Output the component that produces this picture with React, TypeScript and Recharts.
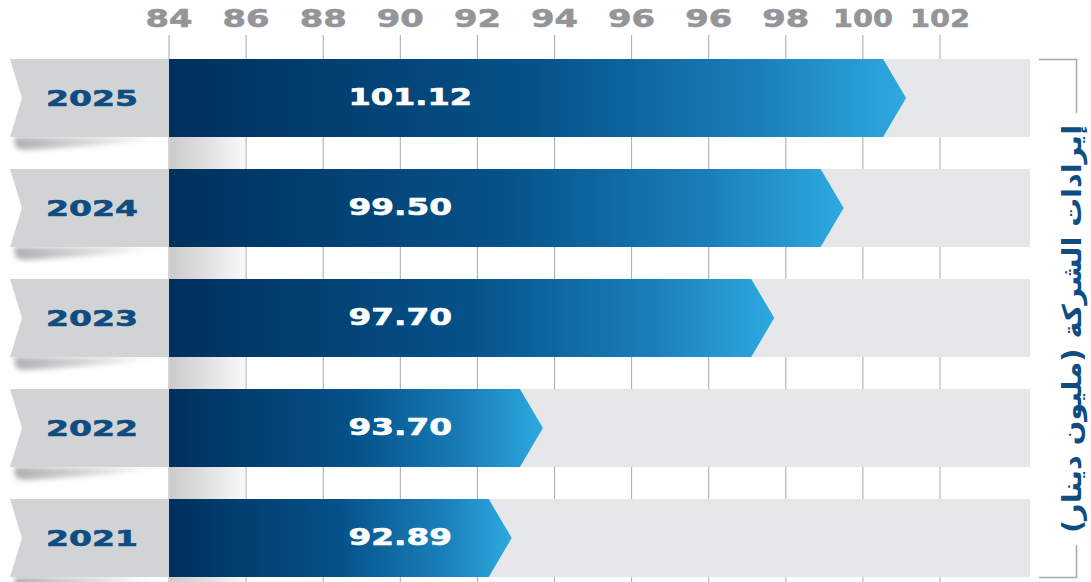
import React from 'react';
import { BarChart, Bar, XAxis, YAxis, CartesianGrid, LabelList } from 'recharts';

// Chart data (top to bottom as printed)
const years = ['2025', '2024', '2023', '2022', '2021'];
const revenue = [101.12, 99.5, 97.7, 93.7, 92.89];
// Printed axis labels, evenly spaced (96 appears twice in the source)
const tickLabels = [84, 86, 88, 90, 92, 94, 96, 96, 98, 100, 102];
const axisTitle = 'إيرادات الشركة (مليون دينار)';

const rows = years.map((year, i) => ({ year, value: revenue[i] }));
const slotTicks = tickLabels.map((_, i) => i);

// Piecewise scale defined by the printed ticks: value -> tick slot
const axisSlot = (v: number) => {
  let k = 0;
  for (let i = 0; i < tickLabels.length - 1; i++) {
    if (tickLabels[i] <= v) k = i;
  }
  const span = tickLabels[k + 1] - tickLabels[k];
  return k + (v - tickLabels[k]) / span;
};

const W = 1091;
const H = 582;
const PLOT_LEFT = 169;
const PLOT_RIGHT = 1030;
const STEP = 77.1;
const BAR_H = 78;
const TIP = 23;
const DOMAIN_MAX = (PLOT_RIGHT - PLOT_LEFT) / STEP;

const GRID = '#a7a9ac';
const BAND = '#e6e7e8';
const RIBBON = '#d1d3d4';
const NAVY = '#0f4c81';
const TICK_GREY = '#939598';
const FONT = '"DejaVu Sans", sans-serif';

// rough ink widths to mimic the extended display face
const textWidth = (s: string, digit: number, one: number, dot: number, trim: number) =>
  s.split('').reduce((w, c) => w + (c === '1' ? one : c === '.' ? dot : digit), 0) - trim;

// grid only at the printed ticks (same linear map as the x axis)
const gridAtTicks = (props: any) => {
  const off = props && props.offset;
  const left = off && typeof off.left === 'number' ? off.left : PLOT_LEFT;
  const width = off && typeof off.width === 'number' ? off.width : PLOT_RIGHT - PLOT_LEFT;
  return slotTicks.map((t) => left + (width * t) / DOMAIN_MAX);
};

const AxisTick = (props: any) => {
  const { x, payload } = props;
  const label = String(tickLabels[payload.value]);
  return (
    <text
      x={x}
      y={26.7}
      textAnchor="middle"
      fontFamily={FONT}
      fontWeight="bold"
      fontSize={25}
      fill={TICK_GREY}
      stroke={TICK_GREY}
      strokeWidth={0.6}
      textLength={textWidth(label, 24, 13, 8, 1)}
      lengthAdjust="spacingAndGlyphs"
    >
      {label}
    </text>
  );
};

const YearTick = (props: any) => {
  const { y, payload } = props;
  const top = y - BAR_H / 2;
  const bot = y + BAR_H / 2;
  const label = String(payload.value);
  return (
    <g>
      {/* soft shadow under the ribbon */}
      <path
        d={`M14,${bot} L168,${bot} L168,${bot + 1} C140,${bot + 4} 90,${bot + 10} 24,${bot + 13} L16,${bot + 11} Z`}
        fill="url(#shadowGrad)"
        filter="url(#softBlur)"
      />
      {/* gap shading right of the ribbon */}
      <rect x={170} y={bot} width={75} height={32} fill="url(#gapGrad)" />
      <path
        d={`M10,${top} L${PLOT_LEFT},${top} L${PLOT_LEFT},${bot} L10,${bot} L22,${y} Z`}
        fill={RIBBON}
      />
      <text
        transform={`translate(92,${y + 7.5}) scale(1.5,1)`}
        textAnchor="middle"
        fontFamily={FONT}
        fontWeight="bold"
        fontSize={22}
        fill={NAVY}
        stroke={NAVY}
        strokeWidth={0.6}
      >
        {label}
      </text>
    </g>
  );
};

const ArrowBar = (props: any) => {
  const { x, y, width, height } = props;
  if (width == null || width <= 0) return null;
  const body = x + width - TIP;
  const d = `M${x},${y} L${body},${y} L${x + width},${y + height / 2} L${body},${y + height} L${x},${y + height} Z`;
  return <path d={d} fill="url(#barGrad)" />;
};

const ValueLabel = (props: any) => {
  const { x, y, height, value } = props;
  const label = Number(value).toFixed(2);
  return (
    <text
      x={x + 179.5}
      y={y + height / 2 + 7}
      fontFamily={FONT}
      fontWeight="bold"
      fontSize={23}
      fill="#ffffff"
      stroke="#ffffff"
      strokeWidth={0.6}
      textLength={textWidth(label, 24.5, 23, 8.5, 3)}
      lengthAdjust="spacingAndGlyphs"
    >
      {label}
    </text>
  );
};

export default function App() {
  return (
    <div
      style={{
        position: 'absolute',
        left: 0,
        top: 0,
        width: W,
        height: H,
        overflow: 'hidden',
        background: '#ffffff',
      }}
    >
      <svg width={0} height={0} style={{ position: 'absolute' }}>
        <defs>
          <linearGradient id="barGrad" x1="0" y1="0" x2="1" y2="0">
            <stop offset="0" stopColor="#00305d" />
            <stop offset="0.5" stopColor="#05528a" />
            <stop offset="0.8" stopColor="#1a7fb9" />
            <stop offset="1" stopColor="#2ea9e0" />
          </linearGradient>
          <linearGradient id="gapGrad" x1="0" y1="0" x2="1" y2="0">
            <stop offset="0" stopColor="#cbcbcc" />
            <stop offset="1" stopColor="#f8f8f8" />
          </linearGradient>
          <linearGradient id="shadowGrad" x1="0" y1="0" x2="1" y2="0">
            <stop offset="0" stopColor="#77787b" stopOpacity={0.6} />
            <stop offset="0.6" stopColor="#939598" stopOpacity={0.3} />
            <stop offset="1" stopColor="#bcbec0" stopOpacity={0} />
          </linearGradient>
          <filter id="softBlur" x="-10%" y="-50%" width="120%" height="200%">
            <feGaussianBlur stdDeviation="2.5" />
          </filter>
        </defs>
      </svg>

      <BarChart
        width={W}
        height={H + 11}
        data={rows}
        layout="vertical"
        margin={{ top: 0, right: W - PLOT_RIGHT, bottom: 0, left: 0 }}
        barSize={BAR_H}
      >
        <CartesianGrid horizontal={false} stroke={GRID} verticalCoordinatesGenerator={gridAtTicks} />
        <XAxis
          type="number"
          orientation="top"
          domain={[0, DOMAIN_MAX]}
          ticks={slotTicks}
          allowDataOverflow
          height={43}
          tick={<AxisTick />}
          tickSize={8}
          tickLine={{ stroke: GRID }}
          axisLine={false}
        />
        <YAxis
          type="category"
          dataKey="year"
          width={PLOT_LEFT}
          tick={<YearTick />}
          tickLine={false}
          axisLine={false}
        />
        <Bar
          dataKey={(d: any) => axisSlot(d.value)}
          background={{ fill: BAND }}
          shape={<ArrowBar />}
          isAnimationActive={false}
        >
          <LabelList dataKey="value" content={<ValueLabel />} />
        </Bar>
      </BarChart>

      <svg width={W} height={H} style={{ position: 'absolute', left: 0, top: 0, pointerEvents: 'none' }}>
        <path d="M1039,59.5 L1076.5,59.5 L1076.5,113" fill="none" stroke="#a7a9ac" strokeWidth={1.5} />
        <path d="M1076.5,545 L1076.5,577.5 L1039,577.5" fill="none" stroke="#a7a9ac" strokeWidth={1.5} />
        <text
          transform="translate(1081,329) rotate(-90)"
          textAnchor="middle"
          fontFamily={FONT}
          fontWeight="bold"
          fontSize={26}
          fill={NAVY}
          direction="rtl"
          textLength={408}
          lengthAdjust="spacingAndGlyphs"
        >
          {axisTitle}
        </text>
      </svg>
    </div>
  );
}
